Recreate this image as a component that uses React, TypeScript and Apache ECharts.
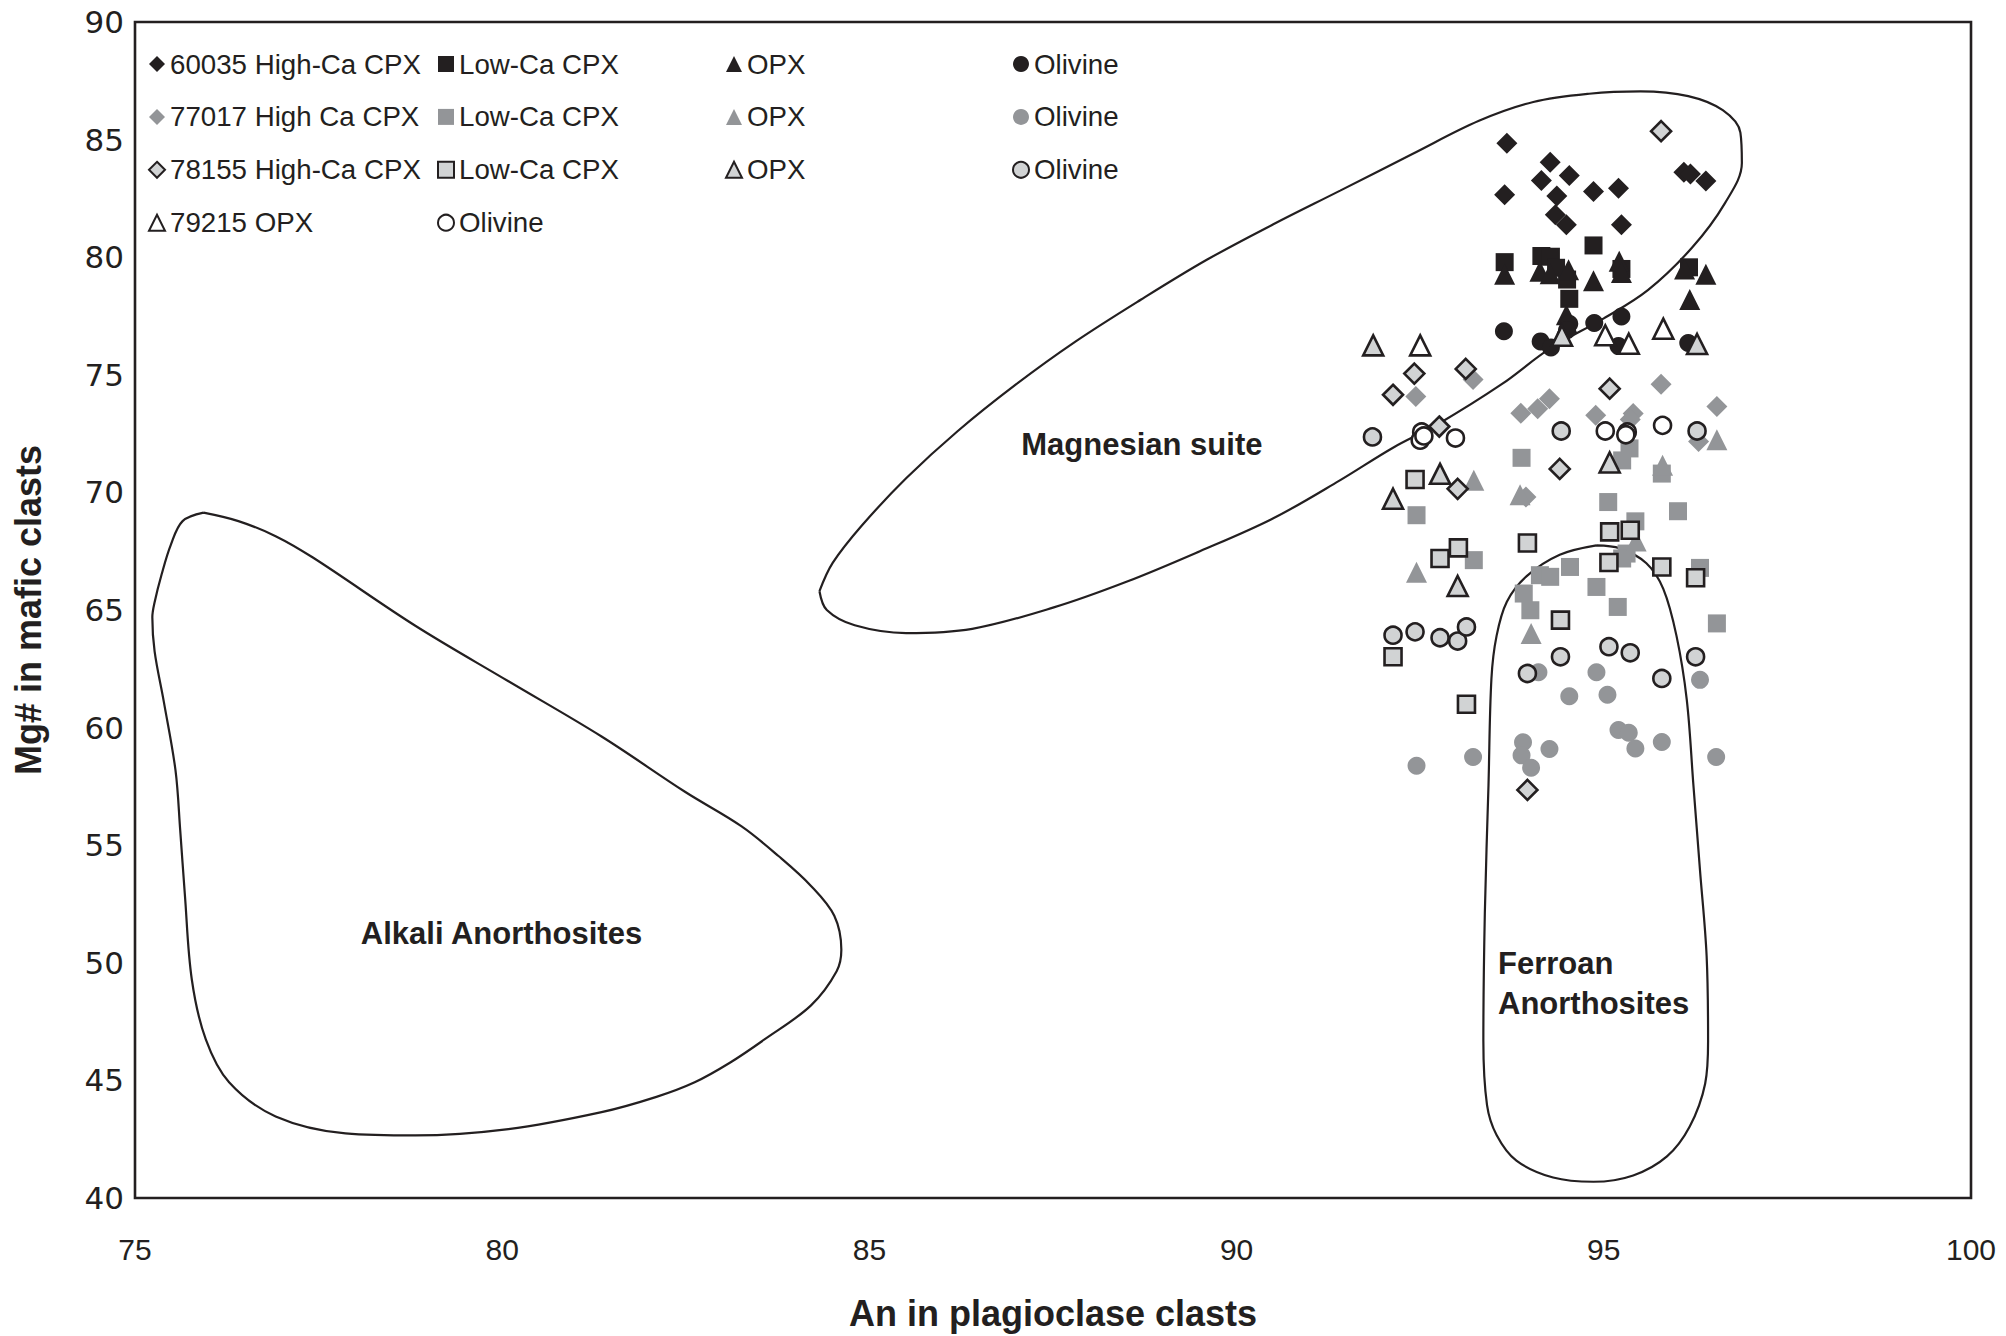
import React, { useEffect, useRef } from "react";
import * as echarts from "echarts";

// ---------- data (An %, Mg#) ----------
const xTicks = [75, 80, 85, 90, 95, 100];
const yTicks = [40, 45, 50, 55, 60, 65, 70, 75, 80, 85, 90];

const s60035HighCa = [
  [93.68, 84.85], [94.27, 84.04], [94.53, 83.47], [94.15, 83.26], [93.65, 82.65],
  [94.36, 82.6], [94.86, 82.79], [95.2, 82.93], [94.34, 81.8], [94.49, 81.38],
  [95.24, 81.38], [96.09, 83.61], [96.18, 83.54], [96.39, 83.24],
];
const s60035LowCa = [
  [93.65, 79.79], [94.15, 80.05], [94.28, 80.02], [94.86, 80.5], [94.5, 79.05],
  [94.53, 78.23], [95.24, 79.5], [96.16, 79.57], [94.35, 79.55],
];
const s60035Opx = [
  [93.65, 79.27], [94.13, 79.4], [94.27, 79.3], [94.52, 79.47], [94.86, 79.0],
  [95.21, 79.83], [95.24, 79.35], [96.1, 79.5], [96.39, 79.27], [96.17, 78.2],
  [94.49, 77.55], [94.5, 77.2],
];
const s60035Ol = [
  [93.64, 76.85], [94.14, 76.42], [94.28, 76.16], [94.53, 77.17], [94.87, 77.2],
  [95.24, 77.48], [95.2, 76.22], [96.15, 76.35], [94.5, 76.9],
];
const s77017HighCa = [
  [92.44, 74.08], [93.22, 74.8], [93.87, 73.36], [94.1, 73.56], [94.26, 73.98],
  [94.89, 73.28], [95.78, 74.6], [95.4, 73.35], [95.36, 73.1], [96.54, 73.65],
  [96.29, 72.16], [93.94, 69.8],
];
const s77017LowCa = [
  [93.88, 71.47], [95.35, 71.87], [95.25, 71.36], [95.79, 70.8], [92.45, 69.03],
  [93.23, 67.12], [95.06, 69.59], [96.01, 69.2], [95.43, 68.77], [94.54, 66.83],
  [94.13, 66.48], [94.27, 66.41], [93.91, 65.7], [94.0, 64.99], [94.9, 65.98],
  [95.19, 65.13], [95.31, 67.4], [95.25, 67.19], [96.31, 66.79], [96.54, 64.43],
];
const s77017Opx = [
  [93.23, 70.52], [92.45, 66.6], [94.01, 64.0], [95.44, 67.93], [95.8, 71.15],
  [96.54, 72.24], [93.86, 69.9],
];
const s77017Ol = [
  [94.11, 62.35], [94.9, 62.35], [94.53, 61.33], [95.05, 61.4], [95.2, 59.9],
  [95.34, 59.78], [95.43, 59.11], [95.79, 59.39], [96.31, 62.03], [96.53, 58.75],
  [92.45, 58.38], [93.22, 58.75], [93.9, 59.38], [93.88, 58.82], [94.01, 58.29],
  [94.26, 59.09],
];
const s78155HighCa = [
  [95.78, 85.36], [92.42, 75.05], [92.13, 74.15], [93.12, 75.25], [95.08, 74.41],
  [94.4, 71.0], [93.01, 70.15], [92.76, 72.8], [93.96, 57.35],
];
const s78155LowCa = [
  [92.43, 70.55], [92.77, 67.19], [93.02, 67.64], [93.96, 67.85], [95.08, 68.32],
  [95.36, 68.39], [95.07, 67.02], [95.79, 66.83], [96.25, 66.37], [94.41, 64.57],
  [92.13, 63.01], [93.13, 60.99],
];
const s78155Opx = [
  [91.86, 76.25], [94.43, 76.66], [96.27, 76.31], [92.13, 69.73], [93.01, 66.02],
  [92.77, 70.79], [95.08, 71.27],
];
const s78155Ol = [
  [91.85, 72.36], [94.42, 72.61], [96.27, 72.61], [92.13, 63.93], [92.43, 64.07],
  [92.77, 63.82], [93.01, 63.68], [93.13, 64.28], [93.96, 62.3], [94.41, 63.01],
  [95.07, 63.44], [95.36, 63.18], [95.79, 62.09], [96.25, 63.01],
];
const s79215Opx = [[92.5, 76.25], [95.02, 76.68], [95.81, 76.96], [95.34, 76.32]];
const s79215Ol = [
  [92.52, 72.57], [92.5, 72.22], [92.55, 72.4], [92.98, 72.31], [95.02, 72.61],
  [95.32, 72.57], [95.3, 72.45], [95.8, 72.85],
];

// field outlines
const alkaliField = [
  [75.933, 69.14], [75.648, 68.78], [75.489, 67.78], [75.362, 66.51], [75.267, 65.33],
  [75.236, 64.69], [75.267, 63.24], [75.394, 61.07], [75.552, 58.17], [75.616, 55.62],
  [75.679, 52.9], [75.774, 49.28], [75.964, 46.74], [76.281, 44.92], [76.915, 43.47],
  [77.866, 42.75], [78.817, 42.66], [80.085, 42.93], [81.353, 43.65], [82.1, 44.3],
  [82.621, 44.92], [83.1, 45.75], [83.571, 46.74], [84.205, 48.19], [84.554, 49.64],
  [84.618, 50.55], [84.522, 52.0], [84.205, 53.27], [83.762, 54.54], [83.255, 55.81],
  [82.494, 57.26], [81.353, 59.62], [80.085, 61.97], [78.817, 64.33],
  [77.422, 67.23], [76.915, 68.14], [76.408, 68.78], [75.933, 69.14],
];
const magnesianField = [
  [84.32, 65.8], [84.42, 65.0], [84.8, 64.35], [85.5, 64.02], [86.4, 64.2],
  [87.5, 65.1], [88.5, 66.2], [89.5, 67.5], [90.5, 68.9], [91.4, 70.5],
  [92.13, 71.9], [92.74, 72.9], [93.61, 74.6], [94.26, 76.1], [95.0, 77.4],
  [95.6, 78.6], [96.2, 80.4], [96.65, 82.3], [96.88, 84.0], [96.86, 85.3],
  [96.62, 86.25], [96.15, 86.85], [95.5, 87.05], [94.8, 86.95], [94.04, 86.6],
  [93.3, 85.8], [92.4, 84.4], [91.41, 82.83], [90.5, 81.4], [89.6, 79.9],
  [88.7, 78.2], [87.8, 76.4], [87.0, 74.6], [86.2, 72.6], [85.5, 70.6],
  [84.9, 68.6], [84.5, 67.0], [84.32, 65.8],
];
const ferroanField = [
  [94.9, 67.75], [94.4, 67.35], [93.95, 66.44], [93.68, 65.35], [93.54, 63.9],
  [93.47, 62.09], [93.43, 57.56], [93.38, 52.11], [93.36, 46.67], [93.41, 43.95],
  [93.54, 42.68], [93.81, 41.59], [94.31, 40.87], [94.86, 40.69], [95.4, 40.96],
  [95.86, 41.77], [96.17, 43.04], [96.38, 44.86], [96.42, 46.67], [96.4, 50.3],
  [96.31, 53.93], [96.22, 57.56], [96.13, 61.18], [95.99, 63.9], [95.81, 65.9],
  [95.58, 66.99], [95.22, 67.62], [94.9, 67.75],
];

const fieldLabels = [
  { name: "Magnesian suite", pos: [88.71, 72.05], align: "center" },
  { name: "Alkali Anorthosites", pos: [79.99, 51.25], align: "center" },
  { name: "Ferroan\nAnorthosites", pos: [93.56, 49.12], align: "left" },
];

// ---------- styling ----------
const INK = "#231f20";
const GRAY = "#939598";
const LIGHT = "#d1d3d4";
const FONT = "'Liberation Sans', Arial, Helvetica, sans-serif";
const WIDE_FONT = "'DejaVu Sans', 'Liberation Sans', sans-serif";

type Def = { name: string; label: string; data: number[][]; symbol: string; fill: string; outline: boolean };

const defs: Def[] = [
  { name: "60035 High-Ca CPX", label: "60035 High-Ca CPX", data: s60035HighCa, symbol: "diamond", fill: INK, outline: false },
  { name: "60035 Low-Ca CPX", label: "Low-Ca CPX", data: s60035LowCa, symbol: "rect", fill: INK, outline: false },
  { name: "60035 OPX", label: "OPX", data: s60035Opx, symbol: "triangle", fill: INK, outline: false },
  { name: "60035 Olivine", label: "Olivine", data: s60035Ol, symbol: "circle", fill: INK, outline: false },
  { name: "77017 High Ca CPX", label: "77017 High Ca CPX", data: s77017HighCa, symbol: "diamond", fill: GRAY, outline: false },
  { name: "77017 Low-Ca CPX", label: "Low-Ca CPX", data: s77017LowCa, symbol: "rect", fill: GRAY, outline: false },
  { name: "77017 OPX", label: "OPX", data: s77017Opx, symbol: "triangle", fill: GRAY, outline: false },
  { name: "77017 Olivine", label: "Olivine", data: s77017Ol, symbol: "circle", fill: GRAY, outline: false },
  { name: "78155 High-Ca CPX", label: "78155 High-Ca CPX", data: s78155HighCa, symbol: "diamond", fill: LIGHT, outline: true },
  { name: "78155 Low-Ca CPX", label: "Low-Ca CPX", data: s78155LowCa, symbol: "rect", fill: LIGHT, outline: true },
  { name: "78155 OPX", label: "OPX", data: s78155Opx, symbol: "triangle", fill: LIGHT, outline: true },
  { name: "78155 Olivine", label: "Olivine", data: s78155Ol, symbol: "circle", fill: LIGHT, outline: true },
  { name: "79215 OPX", label: "79215 OPX", data: s79215Opx, symbol: "triangle", fill: "#ffffff", outline: true },
  { name: "79215 Olivine", label: "Olivine", data: s79215Ol, symbol: "circle", fill: "#ffffff", outline: true },
];

const labelOf: Record<string, string> = {};
defs.forEach((d) => (labelOf[d.name] = d.label));

const symbolSizeOf = (sym: string, outline: boolean) => {
  const base = sym === "triangle" ? 21 : sym === "diamond" ? 21 : 18;
  return outline ? base - 1 : base;
};

export default function App() {
  const ref = useRef<HTMLDivElement>(null);

  useEffect(() => {
    if (!ref.current) return;
    const chart = echarts.init(ref.current, null, { renderer: "svg" });

    const scatterSeries = defs.map((d) => ({
      type: "scatter",
      name: d.name,
      data: d.data,
      symbol: d.symbol,
      symbolSize: symbolSizeOf(d.symbol, d.outline),
      z: 3,
      silent: true,
      itemStyle: {
        color: d.fill,
        borderColor: d.outline ? INK : d.fill,
        borderWidth: d.outline ? 2.6 : 0,
        opacity: 1,
      },
    }));

    const fieldSeries = [alkaliField, magnesianField, ferroanField].map((f, i) => ({
      type: "line",
      name: "field" + i,
      data: f,
      smooth: 0.35,
      symbol: "none",
      silent: true,
      z: 2,
      lineStyle: { color: INK, width: 2.2 },
    }));

    const labelSeries = fieldLabels.map((l, i) => ({
      type: "scatter",
      name: "fieldLabel" + i,
      data: [l.pos],
      symbolSize: 0,
      silent: true,
      z: 4,
      itemStyle: { opacity: 1 },
      label: {
        show: true,
        position: "inside",
        formatter: l.name,
        align: l.align,
        verticalAlign: "middle",
        fontFamily: FONT,
        fontWeight: "bold",
        fontSize: 31,
        lineHeight: 40,
        color: INK,
        opacity: 1,
      },
    }));

    const legendCommon = {
      orient: "vertical",
      top: 49,
      itemGap: 22.9,
      itemWidth: 16,
      itemHeight: 16,
      selectedMode: false,
      formatter: (n: string) => labelOf[n] || n,
      textStyle: { fontFamily: FONT, fontSize: 27.7, lineHeight: 30, color: INK },
      padding: 0,
    };

    const option = {
      animation: false,
      backgroundColor: "#ffffff",
      textStyle: { fontFamily: FONT },
      grid: {
        left: 135,
        top: 22,
        width: 1836,
        height: 1178,
        show: true,
        borderColor: INK,
        borderWidth: 2.6,
        backgroundColor: "transparent",
      },
      legend: [
        { ...legendCommon, left: 148, data: [defs[0].name, defs[4].name, defs[8].name, defs[12].name] },
        { ...legendCommon, left: 437, data: [defs[1].name, defs[5].name, defs[9].name, defs[13].name] },
        { ...legendCommon, left: 725, data: [defs[2].name, defs[6].name, defs[10].name] },
        { ...legendCommon, left: 1012, data: [defs[3].name, defs[7].name, defs[11].name] },
      ],
      xAxis: {
        type: "value",
        min: xTicks[0],
        max: xTicks[xTicks.length - 1],
        interval: 5,
        name: "An in plagioclase clasts",
        nameLocation: "middle",
        nameGap: 97,
        nameTextStyle: { fontFamily: FONT, fontWeight: "bold", fontSize: 36, color: INK, verticalAlign: "top" },
        axisLine: { show: false },
        axisTick: { show: false },
        splitLine: { show: false },
        axisLabel: { fontFamily: FONT, fontSize: 30, color: INK, margin: 36 },
      },
      yAxis: {
        type: "value",
        min: yTicks[0],
        max: yTicks[yTicks.length - 1],
        interval: 5,
        name: "Mg# in mafic clasts",
        nameLocation: "middle",
        nameGap: 89,
        nameRotate: 90,
        nameTextStyle: { fontFamily: FONT, fontWeight: "bold", fontSize: 36, color: INK },
        axisLine: { show: false },
        axisTick: { show: false },
        splitLine: { show: false },
        axisLabel: { fontFamily: WIDE_FONT, fontSize: 31, color: INK, margin: 11 },
      },
      series: [...fieldSeries, ...scatterSeries, ...labelSeries],
    };

    chart.setOption(option as any);
    return () => chart.dispose();
  }, []);

  return (
    <div
      ref={ref}
      style={{ position: "absolute", left: 0, top: 0, width: 2006, height: 1336, background: "#fff" }}
    />
  );
}
